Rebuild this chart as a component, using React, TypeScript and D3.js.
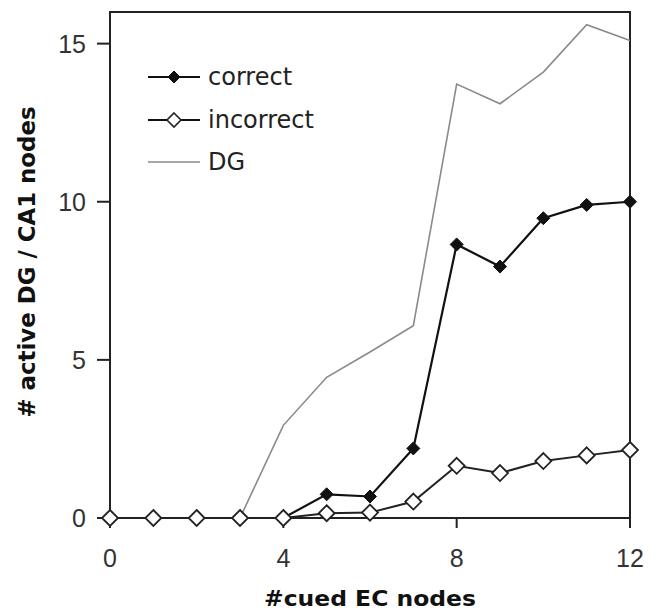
import React from 'react';
import * as d3 from 'd3';

// data
const cuedEC = [0, 1, 2, 3, 4, 5, 6, 7, 8, 9, 10, 11, 12];
const correct = [0, 0, 0, 0, 0, 0.75, 0.68, 2.2, 8.65, 7.95, 9.48, 9.9, 10.0];
const incorrect = [0, 0, 0, 0, 0, 0.15, 0.17, 0.52, 1.65, 1.42, 1.8, 1.98, 2.15];
const dg = [0, 0, 0, 0, 2.93, 4.45, 5.25, 6.08, 13.72, 13.1, 14.1, 15.6, 15.1];

const xTicks = [0, 4, 8, 12];
const yTicks = [0, 5, 10, 15];
const legendItems = ['correct', 'incorrect', 'DG'];

const W = 657;
const H = 610;
const margin = { top: 12, right: 27, bottom: 92, left: 110 };

const App: React.FC = () => {
  const x = d3.scaleLinear().domain([0, 12]).range([margin.left, W - margin.right]);
  const y = d3.scaleLinear().domain([0, 16]).range([H - margin.bottom, margin.top]);

  const line = d3
    .line<number>()
    .x((_, i) => x(cuedEC[i]))
    .y(d => y(d));

  const diamond = (cx: number, cy: number, r: number) =>
    `M${cx},${cy - r} L${cx + r},${cy} L${cx},${cy + r} L${cx - r},${cy} Z`;

  const tickFont = '"Liberation Sans", Arial, sans-serif';
  const legendFont = '"DejaVu Sans", sans-serif';
  const axisColor = '#222';

  const x0 = x.range()[0];
  const x1 = x.range()[1];
  const y0 = y.range()[0];
  const y1 = y.range()[1];

  // legend rows
  const legX0 = 148;
  const legX1 = 200;
  const legY = [77, 120, 162];

  return (
    <svg
      width={W}
      height={H}
      style={{ position: 'absolute', left: 0, top: 0, background: '#fff' }}
    >
      {/* frame */}
      <rect x={x0} y={y1} width={x1 - x0} height={y0 - y1} fill="none" stroke={axisColor} strokeWidth={2} />

      {/* y ticks */}
      {yTicks.map(t => (
        <g key={'y' + t}>
          <line x1={x0 - 13} x2={x0} y1={y(t)} y2={y(t)} stroke={axisColor} strokeWidth={2} />
          <text
            x={x0 - 24}
            y={y(t)}
            dy="0.36em"
            textAnchor="end"
            fontFamily={tickFont}
            fontSize={25}
            fill="#333"
          >
            {t}
          </text>
        </g>
      ))}

      {/* x ticks */}
      {xTicks.map(t => (
        <g key={'x' + t}>
          <line x1={x(t)} x2={x(t)} y1={y0} y2={y0 + 10} stroke={axisColor} strokeWidth={2} />
          <text
            x={x(t)}
            y={y0 + 49}
            textAnchor="middle"
            fontFamily={tickFont}
            fontSize={25}
            fill="#333"
          >
            {t}
          </text>
        </g>
      ))}

      {/* axis titles */}
      <text
        x={(x0 + x1) / 2}
        y={606}
        textAnchor="middle"
        fontFamily={legendFont}
        fontWeight="bold"
        fontSize={21}
        fill="#111"
        textLength={212}
        lengthAdjust="spacingAndGlyphs"
      >
        #cued EC nodes
      </text>
      <text
        transform={`translate(35,${(y0 + y1) / 2 - 3}) rotate(-90)`}
        textAnchor="middle"
        fontFamily={legendFont}
        fontWeight="bold"
        fontSize={23}
        fill="#111"
        textLength={311}
        lengthAdjust="spacingAndGlyphs"
      >
        # active DG / CA1 nodes
      </text>

      {/* series */}
      <path d={line(dg) ?? ''} fill="none" stroke="#8a8a8a" strokeWidth={1.6} />
      <path d={line(correct) ?? ''} fill="none" stroke="#111" strokeWidth={2.2} />
      {correct.map((v, i) => (
        <path key={'c' + i} d={diamond(x(cuedEC[i]), y(v), 6.5)} fill="#111" stroke="#111" strokeWidth={1} />
      ))}
      <path d={line(incorrect) ?? ''} fill="none" stroke="#222" strokeWidth={2} />
      {incorrect.map((v, i) => (
        <path key={'i' + i} d={diamond(x(cuedEC[i]), y(v), 8)} fill="#fff" stroke="#222" strokeWidth={1.8} />
      ))}

      {/* legend */}
      {legendItems.map((name, i) => {
        const cy = legY[i];
        const mid = (legX0 + legX1) / 2;
        return (
          <g key={name}>
            <line
              x1={legX0}
              x2={legX1}
              y1={cy}
              y2={cy}
              stroke={i === 2 ? '#8a8a8a' : '#111'}
              strokeWidth={i === 2 ? 1.6 : 2}
            />
            {i === 0 && <path d={diamond(mid, cy, 6)} fill="#111" stroke="#111" />}
            {i === 1 && <path d={diamond(mid, cy, 7)} fill="#fff" stroke="#222" strokeWidth={1.6} />}
            <text
              x={208}
              y={cy}
              dy="0.35em"
              fontFamily={legendFont}
              fontSize={24}
              fill="#222"
            >
              {name}
            </text>
          </g>
        );
      })}
    </svg>
  );
};

export default App;
